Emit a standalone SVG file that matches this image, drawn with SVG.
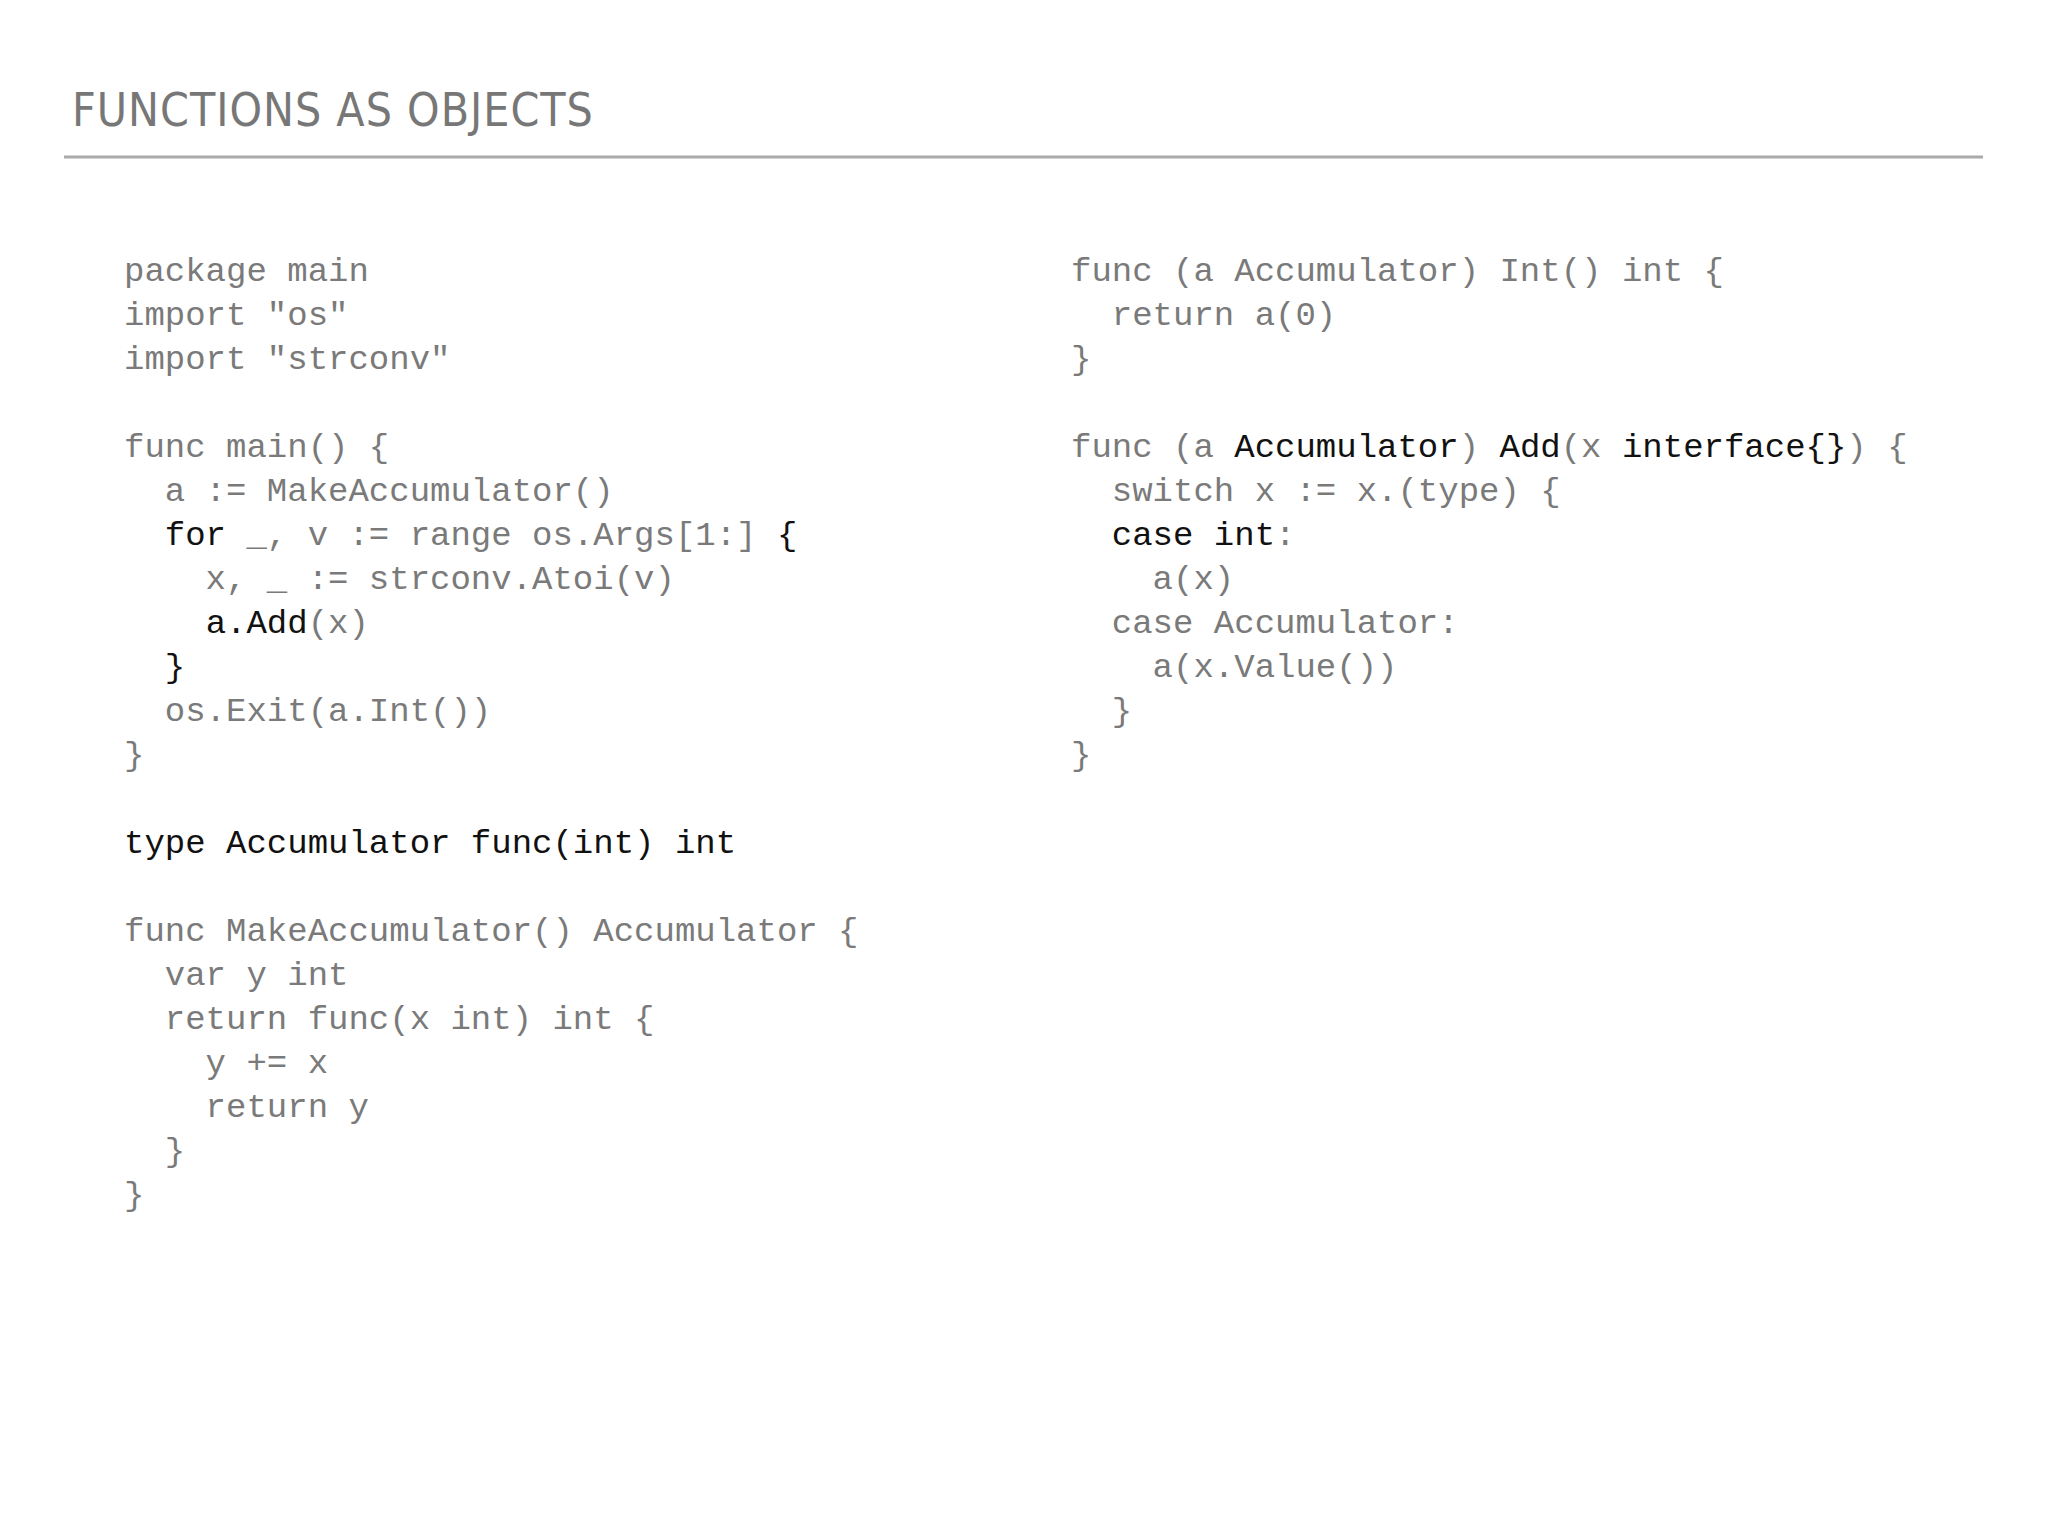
<svg xmlns="http://www.w3.org/2000/svg" width="2048" height="1536" viewBox="0 0 2048 1536" xml:space="preserve">
<style>
.t{font-family:"DejaVu Sans Condensed","Liberation Sans",sans-serif;font-size:46px;fill:#777;letter-spacing:1px}
.c{font-family:"Liberation Mono",monospace;font-size:34px;fill:#7a7a7a;white-space:pre}
.k{fill:#111}
</style>
<rect width="2048" height="1536" fill="#fff"/>
<g id="title"><text class="t" x="72" y="126">FUNCTIONS AS OBJECTS</text>
<line x1="64" y1="157" x2="1983" y2="157" stroke="#aaa" stroke-width="3"/></g>
<g id="left">
<text class="c" x="124" y="281">package main</text>
<text class="c" x="124" y="325">import "os"</text>
<text class="c" x="124" y="369">import "strconv"</text>
<text class="c" x="124" y="457">func main() {</text>
<text class="c" x="124" y="501">  a := MakeAccumulator()</text>
<text class="c" x="124" y="545">  <tspan class="k">for</tspan> _, v := range os.Args[1:] <tspan class="k">{</tspan></text>
<text class="c" x="124" y="589">    x, _ := strconv.Atoi(v)</text>
<text class="c" x="124" y="633">    <tspan class="k">a.Add</tspan>(x)</text>
<text class="c" x="124" y="677">  <tspan class="k">}</tspan></text>
<text class="c" x="124" y="721">  os.Exit(a.Int())</text>
<text class="c" x="124" y="765">}</text>
<text class="c k" x="124" y="853">type Accumulator func(int) int</text>
<text class="c" x="124" y="941">func MakeAccumulator() Accumulator {</text>
<text class="c" x="124" y="985">  var y int</text>
<text class="c" x="124" y="1029">  return func(x int) int {</text>
<text class="c" x="124" y="1073">    y += x</text>
<text class="c" x="124" y="1117">    return y</text>
<text class="c" x="124" y="1161">  }</text>
<text class="c" x="124" y="1205">}</text>
</g>
<g id="right">
<text class="c" x="1071" y="281">func (a Accumulator) Int() int {</text>
<text class="c" x="1071" y="325">  return a(0)</text>
<text class="c" x="1071" y="369">}</text>
<text class="c" x="1071" y="457">func (a <tspan class="k">Accumulator</tspan>) <tspan class="k">Add</tspan>(x <tspan class="k">interface{}</tspan>) {</text>
<text class="c" x="1071" y="501">  switch x := x.(type) {</text>
<text class="c" x="1071" y="545">  <tspan class="k">case int</tspan>:</text>
<text class="c" x="1071" y="589">    a(x)</text>
<text class="c" x="1071" y="633">  case Accumulator:</text>
<text class="c" x="1071" y="677">    a(x.Value())</text>
<text class="c" x="1071" y="721">  }</text>
<text class="c" x="1071" y="765">}</text>
</g>
</svg>
